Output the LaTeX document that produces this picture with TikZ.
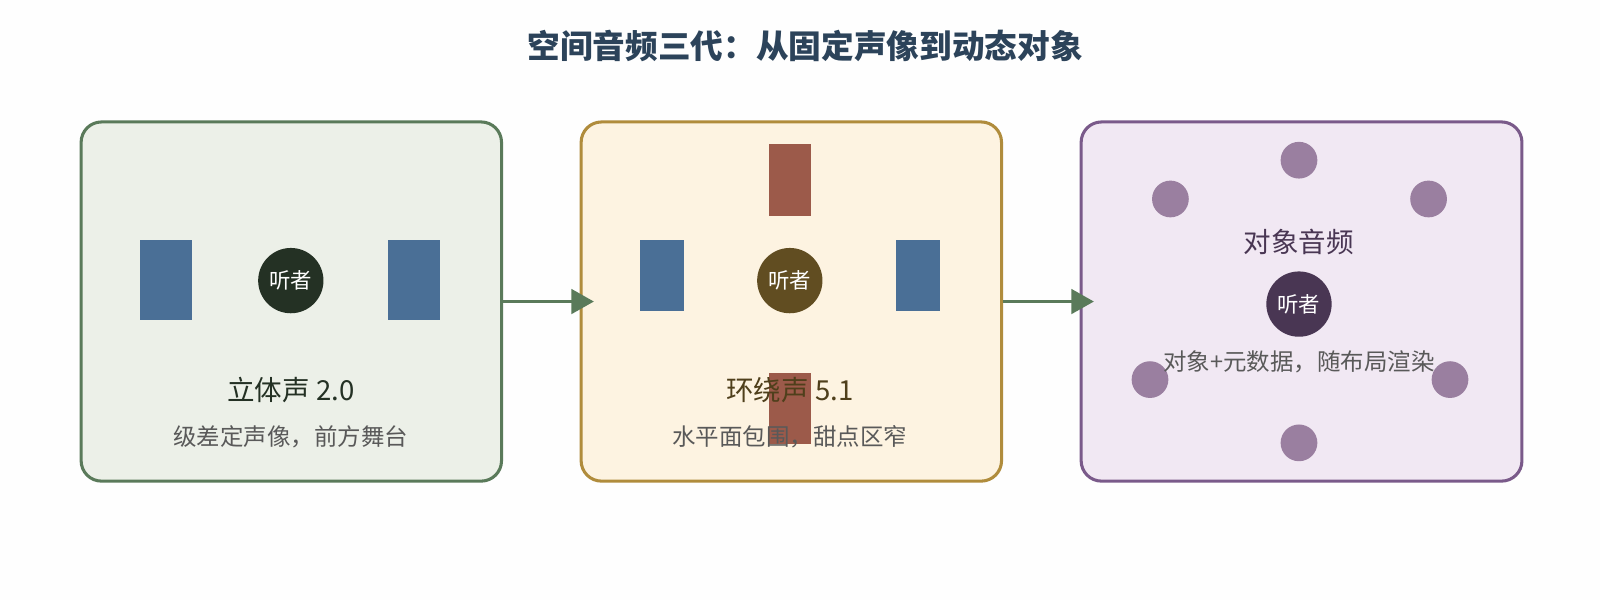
\documentclass[tikz,border=0pt]{standalone}
\usepackage{fontspec}
\setmainfont{Noto Sans CJK SC}
\usetikzlibrary{arrows.meta}
\definecolor{grnline}{HTML}{5A7A5A}
\definecolor{grnfill}{HTML}{ECF0E8}
\definecolor{goldline}{HTML}{B08C3C}
\definecolor{goldfill}{HTML}{FDF3E1}
\definecolor{purpline}{HTML}{7A5A8A}
\definecolor{purpfill}{HTML}{F1E8F3}
\definecolor{spkblue}{HTML}{4A6F96}
\definecolor{spkred}{HTML}{9C5A4A}
\definecolor{objdot}{HTML}{9A7FA0}
\tikzset{
	panel/.style={draw, line width=3pt, rounded corners=20pt, minimum width=412pt, minimum height=352pt, anchor=north west},
	spk/.style={fill=#1, inner sep=0, anchor=north west},
	lis/.style={circle, fill=#1, minimum size=64pt, inner sep=0, text=white, font=\fontsize{21}{21}\selectfont},
	lab/.style={font=\fontsize{27}{27}\selectfont},
	sub/.style={text=black!65, font=\fontsize{23}{23}\selectfont},
	flow/.style={draw=grnline, line width=3pt, -{Triangle[length=22pt,width=24pt]}}
}
\begin{document}
\begin{tikzpicture}[x=1pt,y=-1pt]
	\useasboundingbox[fill=white!99!gray] (0,0) rectangle (1568,588);
	% Title
	\node[font=\bfseries\fontsize{32}{32}\selectfont, text=spkblue!60!black] (title) at (789,45) {空间音频三代：从固定声像到动态对象};

	% Boxes
	\node[panel, draw=grnline, fill=grnfill] (p1) at (78,118) {};
	\node[panel, draw=goldline, fill=goldfill] (p2) at (568,118) {};
	\node[panel, draw=purpline, fill=purpfill, minimum width=432pt] (p3) at (1058,118) {};

	% stereo
	\node[spk=spkblue, minimum width=51pt, minimum height=78pt] (s1) at (137,235) {};
	\node[spk=spkblue, minimum width=51pt, minimum height=78pt] (s2) at (380,235) {};
	\node[lis=grnline!40!black] (l1) at (285,275) {听者};
	\node[lab, text=grnline!40!black] (t1) at (285,382) {立体声 2.0};
	\node[sub] (d1) at (285,428) {级差定声像，前方舞台};

	% surround
	\node[spk=spkred, minimum width=42pt, minimum height=70pt] (c1) at (753,141) {};
	\node[spk=spkblue, minimum width=43pt, minimum height=70pt] (c2) at (627,235) {};
	\node[spk=spkblue, minimum width=43pt, minimum height=70pt] (c3) at (878,235) {};
	\node[spk=spkred, minimum width=42pt, minimum height=70pt] (c4) at (753,365) {};
	\node[lis=goldline!55!black] (l2) at (774,275) {听者};
	\node[lab, text=goldline!45!black] (t2) at (774,382) {环绕声 5.1};
	\node[sub] (d2) at (774,428) {水平面包围，甜点区窄};

	% objects
	\foreach \x/\y [count=\i] in {1273/157,1147/195,1400/195,1127/372,1421/372,1273/434}
		\node[circle, fill=objdot, minimum size=36pt, inner sep=0] (o\i) at (\x,\y) {};
	\node[lab, text=purpline!60!black] (t3) at (1273,237) {对象音频};
	\node[lis=purpline!60!black] (l3) at (1273,298) {听者};
	\node[sub] (d3) at (1273,355) {对象+元数据，随布局渲染};

	% arrows
	\draw[flow] (p1.east) -- ([xshift=14pt]p2.west);
	\draw[flow] (p2.east) -- ([xshift=14pt]p3.west);
\end{tikzpicture}
\end{document}
